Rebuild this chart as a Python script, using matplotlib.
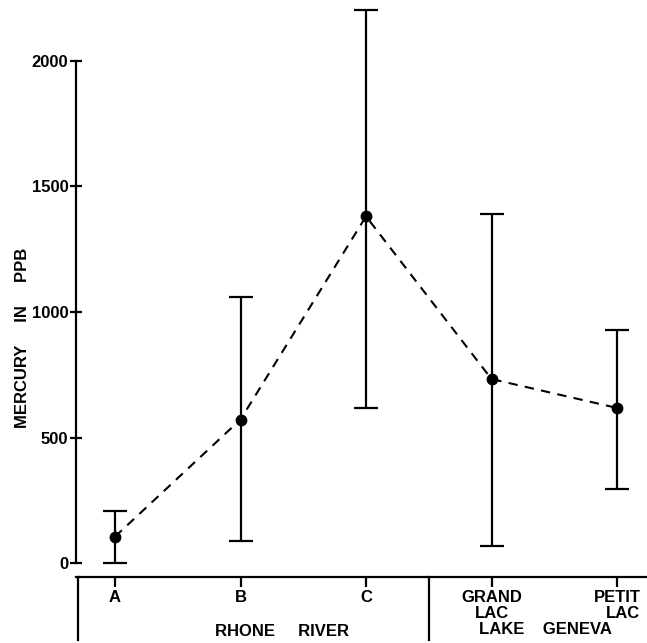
import matplotlib
matplotlib.use("Agg")
import matplotlib.pyplot as plt
import matplotlib.transforms as mtransforms
import numpy as np

plt.rcParams['font.family'] = ['Liberation Sans', 'DejaVu Sans']
plt.rcParams['font.weight'] = 'bold'

# data
sites = ["A", "B", "C", "GRAND\nLAC", "PETIT\nLAC"]
means = [106, 572, 1380, 733, 618]
lows = [0, 90, 618, 69, 296]
highs = [209, 1059, 2201, 1389, 928]
groups = ["RHONE     RIVER", "LAKE    GENEVA"]
yticks = [0, 500, 1000, 1500, 2000]

x = np.arange(len(sites))
means = np.array(means)
yerr = [means - np.array(lows), np.array(highs) - means]

fig = plt.figure(figsize=(6.47, 6.43), dpi=100)
ax = fig.add_axes([76 / 647, 66 / 643, 571 / 647, 577 / 643])

ax.plot(x, means, ls=(0, (4.5, 3.5)), color="black", lw=1.5, zorder=2)
ax.errorbar(x, means, yerr=yerr, fmt="o", color="black", ms=7.5,
            elinewidth=1.6, capsize=8.5, capthick=1.6, zorder=3)

ax.set_xlim(-0.311, 4.239)
ax.set_ylim(-54.5, 2240.7)

ax.spines["top"].set_visible(False)
ax.spines["right"].set_visible(False)
ax.spines["left"].set_bounds(0, 2000)
ax.spines["left"].set_linewidth(1.6)
ax.spines["bottom"].set_linewidth(1.6)

ax.set_yticks(yticks)
ax.set_yticklabels([str(v) for v in yticks], fontsize=12, fontweight="bold")
ax.tick_params(axis="y", direction="inout", length=9, width=1.6, pad=1)

ax.set_xticks(x)
labels = ax.set_xticklabels(sites, fontsize=12, fontweight="bold", linespacing=1.12)
labels[3].set_multialignment("center")
labels[4].set_multialignment("right")
ax.tick_params(axis="x", direction="out", length=7, width=1.6, pad=2)

ax.set_ylabel("MERCURY     IN     PPB", fontsize=12, fontweight="bold")
ax.yaxis.set_label_coords(-0.08, 0.415)

# group dividers and labels under the x axis
trans = mtransforms.blended_transform_factory(ax.transData, ax.transAxes)
for xd in [-0.295, 2.5]:
    ax.plot([xd, xd], [0, -0.11], transform=trans, color="black", lw=1.6,
            clip_on=False)
ax.text(1.33, -0.095, groups[0], transform=trans, ha="center", va="center",
        fontsize=12, fontweight="bold")
ax.text(3.43, -0.091, groups[1], transform=trans, ha="center", va="center",
        fontsize=12, fontweight="bold")

fig.savefig("out.png", dpi=100, facecolor="white")
